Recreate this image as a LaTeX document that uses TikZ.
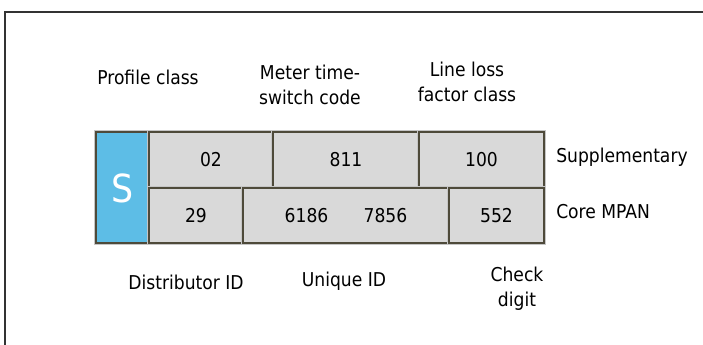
\documentclass[tikz,border=0pt]{standalone}
\usepackage{fontspec}
\setmainfont{DejaVu Sans Condensed}
\definecolor{sblue}{HTML}{5DBDE6}
\definecolor{cellgray}{HTML}{D9D9D9}
\definecolor{edge}{HTML}{4E4A3A}

\begin{document}
\begin{tikzpicture}[x=0.75pt,y=-0.75pt,
  cell/.style={fill=cellgray, draw=edge, line width=1.3pt,
    preaction={draw=gray!45, line width=2.4pt}},
  lbl/.style={font=\fontsize{14.3}{18.7}\selectfont, align=center, inner sep=0pt},
  num/.style={font=\fontsize{14.3}{17}\selectfont, inner sep=0pt}]
\useasboundingbox (0,0) rectangle (703,344);
\newcommand\field[6]{
\draw[cell] (#2,#3) rectangle (#4,#5);
\node[num] (#1) at ({(#2+#4)/2},{(#3+#5)/2}) {#6};
}
% frame
\draw[line width=1pt, black!80] (5,360) -- (5,12) -- (720,12);

% blue profile cell
\draw[cell, fill=sblue] (96,132) rectangle (149,243);
\node[font=\fontsize{29}{29}\selectfont, text=white, inner sep=0pt] (s) at (122.5,188) {S};

% supplementary row
\field{pc}{149}{132}{273}{188}{02}
\field{mtc}{273}{132}{419}{188}{811}
\field{llf}{419}{132}{544}{188}{100}
% core row
\field{dist}{149}{188}{243}{243}{29}
\field{uniq}{243}{188}{449}{243}{6186\hspace{1.85em}7856}
\field{chk}{449}{188}{544}{243}{552}

% labels
\node[lbl] (pclbl) at (148,77) {Profile class};
\node[lbl] (mtclbl) at (310,85) {Meter time-\\switch code};
\node[lbl] (llflbl) at (467,82) {Line loss\\factor class};
\node[lbl, anchor=west] (suplbl) at (556,157) {Supplementary};
\node[lbl, anchor=west] (corelbl) at (556,212) {Core MPAN};
\node[lbl] (distlbl) at (186,282) {Distributor ID};
\node[lbl] (uniqlbl) at (344,281) {Unique ID};
\node[lbl] (chklbl) at (517,289) {Check\\digit};
\end{tikzpicture}
\end{document}
